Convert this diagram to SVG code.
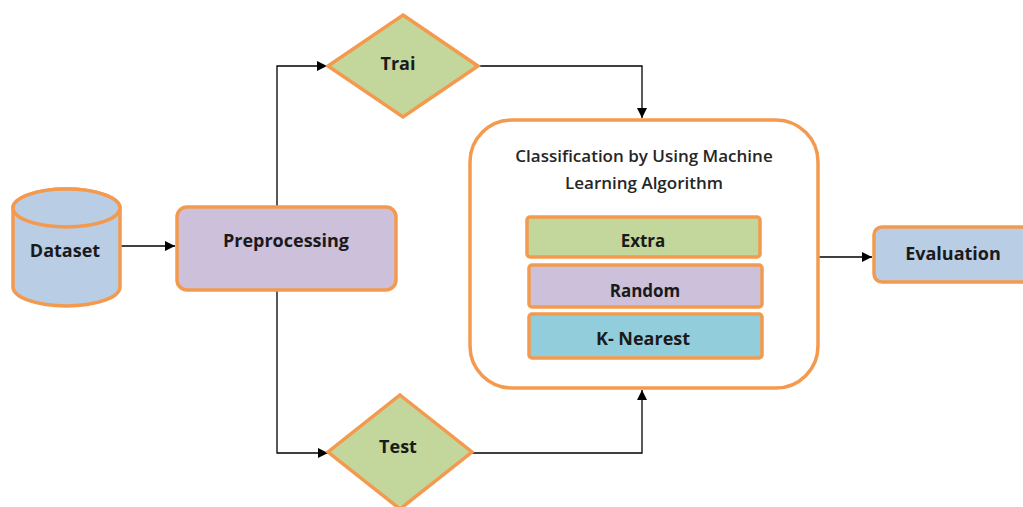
<svg xmlns="http://www.w3.org/2000/svg" width="1023" height="507" viewBox="0 0 1023 507">
  <defs>
    <marker id="arrow" viewBox="0 0 10 10" refX="10" refY="5" markerWidth="10" markerHeight="10" markerUnits="userSpaceOnUse" orient="auto">
      <path d="M0,0 L10,5 L0,10 z" fill="#000"/>
    </marker>
    <style>
      .shape { stroke: #F39A4F; stroke-width: 3.5; }
      .green { fill: #C3D69B; }
      .purple { fill: #CCC0DA; }
      .blue { fill: #B9CDE5; }
      .teal { fill: #92CDDC; }
      .white { fill: #FFFFFF; }
      .label { font-family: "Open Sans", "Liberation Sans", sans-serif; font-weight: bold; font-size: 18px; fill: #1A1A1A; text-anchor: middle; dominant-baseline: central; }
      .title { font-family: "Open Sans", "Liberation Sans", sans-serif; font-weight: 600; font-size: 17px; fill: #262626; text-anchor: middle; }
      .link { fill: none; stroke: #000; stroke-width: 1.3; }
    </style>
  </defs>
  <rect width="1023" height="507" fill="#FFFFFF"/>

  <g id="connectors">
    <line class="link" x1="121" y1="246" x2="175" y2="246" marker-end="url(#arrow)"/>
    <polyline class="link" points="277,207 277,66 327,66" marker-end="url(#arrow)"/>
    <polyline class="link" points="277,290 277,453 328,453" marker-end="url(#arrow)"/>
    <polyline class="link" points="478,66 642,66 642,118" marker-end="url(#arrow)"/>
    <polyline class="link" points="472,453 642,453 642,390" marker-end="url(#arrow)"/>
    <line class="link" x1="818" y1="257" x2="872" y2="257" marker-end="url(#arrow)"/>
  </g>

  <g id="dataset">
    <path class="shape blue" d="M13,208 L13,287 A53.5,19 0 0 0 120,287 L120,208 A53.5,19 0 0 0 13,208 z"/>
    <ellipse class="shape blue" cx="66.5" cy="208" rx="53.5" ry="19"/>
    <text class="label" x="65" y="250">Dataset</text>
  </g>

  <g id="preprocessing">
    <rect class="shape purple" x="177" y="207" width="219" height="83" rx="10"/>
    <text class="label" x="286" y="240">Preprocessing</text>
  </g>

  <g id="train">
    <polygon class="shape green" points="403,15 478,66 403,117 328,66"/>
    <text class="label" x="398" y="63">Trai</text>
  </g>

  <g id="test">
    <polygon class="shape green" points="400,395 472,452 400,509 328,452"/>
    <text class="label" x="398" y="446">Test</text>
  </g>

  <g id="classification">
    <rect class="shape white" x="470" y="120" width="348" height="268" rx="42"/>
    <text class="title" x="644" y="162">Classification by Using Machine</text>
    <text class="title" x="644" y="189">Learning Algorithm</text>
  </g>

  <g id="extra">
    <rect class="shape green" x="527" y="217" width="233" height="40" rx="3"/>
    <text class="label" x="643" y="240" style="font-size:17px">Extra</text>
  </g>

  <g id="random">
    <rect class="shape purple" x="529" y="265" width="233" height="42" rx="3"/>
    <text class="label" x="645" y="290" style="font-size:17px">Random</text>
  </g>

  <g id="knearest">
    <rect class="shape teal" x="529" y="314" width="233" height="44" rx="3"/>
    <text class="label" x="643" y="338">K- Nearest</text>
  </g>

  <g id="evaluation">
    <rect class="shape blue" x="874" y="227" width="160" height="55" rx="8"/>
    <text class="label" x="953" y="253">Evaluation</text>
  </g>
</svg>
